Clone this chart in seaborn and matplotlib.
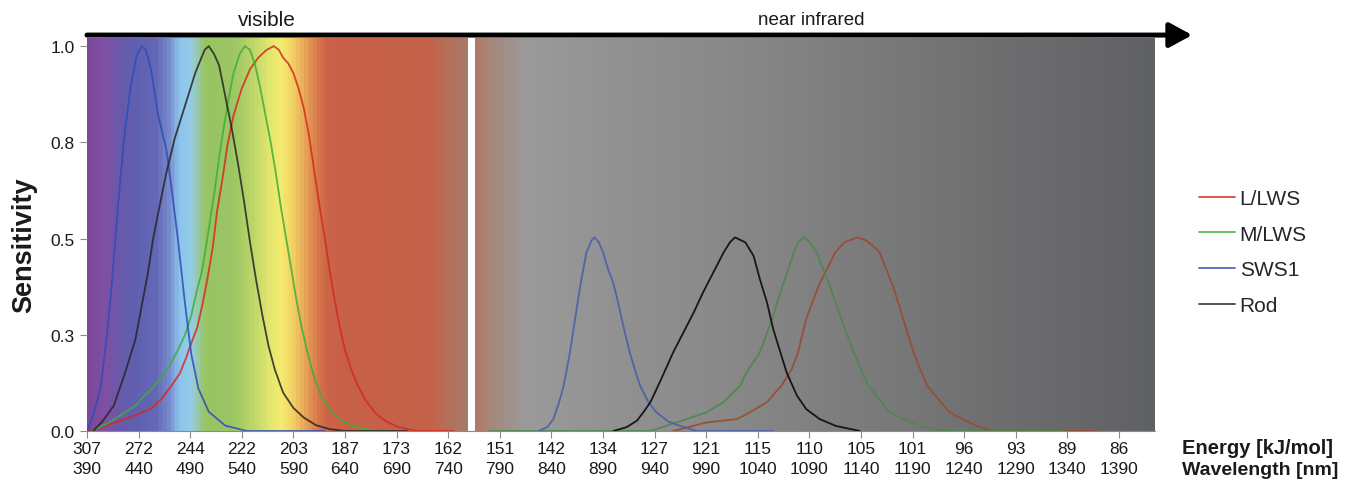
import numpy as np
import pandas as pd
import matplotlib
matplotlib.use('Agg')
import matplotlib.pyplot as plt
from matplotlib.colors import LinearSegmentedColormap
import seaborn as sns

# receptor order as in the legend
receptors = ['L/LWS', 'M/LWS', 'SWS1', 'Rod']

# visible range, one-photon sensitivity
llws_vis_nm = [392, 405, 415, 427, 440, 452, 462, 472, 480, 486, 492, 497, 502, 507, 512, 516, 521, 526, 532, 540,
               548, 556, 564, 571, 576, 580, 585, 590, 595, 600, 605, 610, 615, 620, 625, 630, 635, 640, 646, 652,
               660, 670, 680, 692, 710, 745]
llws_vis = [0.0, 0.01, 0.02, 0.031, 0.044, 0.058, 0.083, 0.118, 0.15, 0.19, 0.235, 0.27, 0.33, 0.40, 0.48, 0.57,
            0.65, 0.74, 0.82, 0.89, 0.94, 0.97, 0.99, 1.0, 0.99, 0.97, 0.955, 0.93, 0.89, 0.84, 0.77, 0.68, 0.59,
            0.51, 0.42, 0.34, 0.27, 0.21, 0.16, 0.12, 0.08, 0.045, 0.025, 0.01, 0.0, 0.0]

mlws_vis_nm = [395, 410, 425, 437, 445, 453, 462, 470, 478, 485, 491, 496, 501, 506, 510, 514, 518, 522, 527, 532,
               538, 543, 548, 553, 558, 563, 568, 573, 578, 583, 588, 593, 598, 604, 610, 617, 625, 635, 648, 665, 685]
mlws_vis = [0.0, 0.02, 0.045, 0.066, 0.09, 0.11, 0.14, 0.17, 0.21, 0.25, 0.30, 0.36, 0.41, 0.49, 0.56, 0.63, 0.71,
            0.78, 0.86, 0.93, 0.98, 1.0, 0.99, 0.95, 0.89, 0.82, 0.75, 0.67, 0.58, 0.50, 0.42, 0.34, 0.27, 0.20,
            0.14, 0.09, 0.055, 0.03, 0.012, 0.003, 0.0]

sws1_vis_nm = [390, 396, 403, 409, 415, 420, 426, 432, 438, 443, 447, 452, 459, 467, 472, 478, 485, 491, 498, 508,
               524, 545, 620]
sws1_vis = [0.0, 0.04, 0.11, 0.24, 0.41, 0.585, 0.76, 0.89, 0.975, 1.0, 0.99, 0.94, 0.82, 0.73, 0.63, 0.50, 0.33,
            0.20, 0.11, 0.05, 0.014, 0.0, 0.0]

rod_vis_nm = [396, 405, 416, 427, 437, 443, 449, 454, 460, 467, 475, 485, 495, 504, 508, 513, 518, 524, 530, 536,
              542, 548, 554, 560, 566, 572, 580, 590, 600, 612, 625, 640, 700]
rod_vis = [0.0, 0.025, 0.066, 0.152, 0.239, 0.325, 0.41, 0.498, 0.58, 0.672, 0.76, 0.845, 0.931, 0.99, 1.0, 0.98,
           0.95, 0.87, 0.79, 0.70, 0.60, 0.49, 0.39, 0.30, 0.22, 0.16, 0.10, 0.06, 0.035, 0.015, 0.005, 0.0, 0.0]

# near infrared range, two-photon sensitivity
llws_nir_nm = [958, 990, 1020, 1032, 1049, 1063, 1073, 1079, 1087, 1099, 1107, 1115, 1125, 1137, 1145, 1152, 1158,
               1171, 1181, 1191, 1204, 1226, 1252, 1268, 1371]
llws_nir = [0.0, 0.022, 0.031, 0.048, 0.075, 0.118, 0.161, 0.204, 0.291, 0.377, 0.42, 0.464, 0.492, 0.503, 0.495,
            0.48, 0.464, 0.377, 0.291, 0.204, 0.118, 0.048, 0.013, 0.0, 0.0]

mlws_nir_nm = [780, 936, 971, 990, 1007, 1023, 1029, 1042, 1054, 1064, 1075, 1079, 1084, 1089, 1097, 1110, 1121,
               1133, 1147, 1168, 1197, 1223, 1337]
mlws_nir = [0.0, 0.0, 0.031, 0.048, 0.075, 0.118, 0.152, 0.204, 0.291, 0.377, 0.464, 0.49, 0.503, 0.495, 0.464,
            0.377, 0.291, 0.204, 0.118, 0.048, 0.013, 0.0, 0.0]

sws1_nir_nm = [828, 836, 842, 847, 852, 858, 863, 868, 874, 879, 882, 886, 890, 895, 900, 905, 910, 916, 922, 926,
               934, 942, 953, 965, 981, 1055]
sws1_nir = [0.0, 0.01, 0.031, 0.07, 0.118, 0.204, 0.291, 0.377, 0.464, 0.495, 0.503, 0.49, 0.465, 0.42, 0.385,
            0.33, 0.27, 0.204, 0.15, 0.118, 0.075, 0.048, 0.025, 0.013, 0.0, 0.0]

rod_nir_nm = [900, 913, 923, 929, 936, 942, 948, 958, 968, 978, 987, 997, 1007, 1013, 1018, 1028, 1036, 1042, 1049,
              1055, 1062, 1068, 1078, 1087, 1100, 1116, 1139]
rod_nir = [0.0, 0.01, 0.027, 0.048, 0.075, 0.109, 0.144, 0.204, 0.256, 0.308, 0.36, 0.412, 0.464, 0.49, 0.503,
           0.49, 0.455, 0.395, 0.334, 0.265, 0.204, 0.152, 0.092, 0.057, 0.031, 0.013, 0.0]

# axis ticks: wavelength and matching photon energy
wl_ticks = [390, 440, 490, 540, 590, 640, 690, 740, 790, 840, 890, 940, 990, 1040, 1090, 1140, 1190, 1240, 1290,
            1340, 1390]
energy_ticks = [307, 272, 244, 222, 203, 187, 173, 162, 151, 142, 134, 127, 121, 115, 110, 105, 101, 96, 93, 89, 86]
sens_ticks = [0.0, 0.25, 0.5, 0.75, 1.0]
sens_labels = ['0.0', '0.3', '0.5', '0.8', '1.0']

# background spectrum colour stops
bg_nm = [390, 405, 420, 435, 455, 468, 478, 490, 497, 503, 530, 550, 565, 576, 588, 600, 612, 622, 640, 720, 740,
         759, 766, 785, 815, 900, 1000, 1100, 1200, 1300, 1425]
bg_colors = ['#7a489b', '#8050a5', '#695aaa', '#6060b0', '#6468b6', '#788ccd', '#8cc4ec', '#96cde6', '#96c896',
             '#98c464', '#9cc664', '#bed769', '#e1e66e', '#f5ec70', '#f2d264', '#e8a558', '#d7784b', '#cc6448',
             '#c86048', '#c6624a', '#b4705a', '#a57d6c', '#b27a66', '#a48a80', '#9c9a9a', '#929292', '#8a8a8a',
             '#808080', '#767677', '#6c6c6e', '#606165']

vis_palette = {'L/LWS': '#d42a1e', 'M/LWS': '#3fae3a', 'SWS1': '#2f4cb8', 'Rod': '#262626'}
nir_palette = {'L/LWS': '#9a4a32', 'M/LWS': '#4d874d', 'SWS1': '#4a5faa', 'Rod': '#0a0a0a'}


def long_df(parts):
    frames = [pd.DataFrame({'nm': nm, 'sens': s, 'receptor': name}) for name, nm, s in parts]
    return pd.concat(frames, ignore_index=True)


vis = long_df([('L/LWS', llws_vis_nm, llws_vis), ('M/LWS', mlws_vis_nm, mlws_vis),
               ('SWS1', sws1_vis_nm, sws1_vis), ('Rod', rod_vis_nm, rod_vis)])
nir = long_df([('L/LWS', llws_nir_nm, llws_nir), ('M/LWS', mlws_nir_nm, mlws_nir),
               ('SWS1', sws1_nir_nm, sws1_nir), ('Rod', rod_nir_nm, rod_nir)])

sns.set_theme(style='white')
plt.rcParams['font.family'] = ['Liberation Sans', 'DejaVu Sans']

W, H = 1369, 489
fig = plt.figure(figsize=(W / 100, H / 100), dpi=100)
ax = fig.add_axes([87 / W, 1 - 432 / H, (1155 - 87) / W, (432 - 39) / H])

x_lo, x_hi, y_top = 390, 1425, 1.021

# spectrum background
pos = [(n - x_lo) / (x_hi - x_lo) for n in bg_nm]
cmap = LinearSegmentedColormap.from_list('spectrum', list(zip(pos, bg_colors)))
ax.imshow(np.linspace(0, 1, 1500).reshape(1, -1), cmap=cmap, aspect='auto',
          extent=(x_lo, x_hi, 0, y_top), zorder=0, interpolation='bilinear')
ax.axvspan(759, 766, color='white', lw=0, zorder=1)

sns.lineplot(data=vis, x='nm', y='sens', hue='receptor', hue_order=receptors, palette=vis_palette,
             estimator=None, lw=1.3, alpha=0.85, ax=ax, zorder=3)
sns.lineplot(data=nir, x='nm', y='sens', hue='receptor', hue_order=receptors, palette=nir_palette,
             estimator=None, lw=1.3, alpha=0.9, ax=ax, zorder=3, legend=False)

ax.set_xlim(x_lo, x_hi)
ax.set_ylim(0, y_top)
ax.set_xlabel('')
ax.set_ylabel('')

ax.set_xticks(wl_ticks)
ax.set_xticklabels([f'{e}\n{w}' for e, w in zip(energy_ticks, wl_ticks)], linespacing=1.4)
ax.set_yticks(sens_ticks)
ax.set_yticklabels(sens_labels)
ax.tick_params(axis='x', bottom=True, length=5, width=0.8, color='#8a8a8a', labelsize=12.5, pad=2.5,
               labelcolor='#1a1a1a')
ax.tick_params(axis='y', left=True, length=5, width=0.8, color='#8a8a8a', labelsize=12.5, pad=4,
               labelcolor='#1a1a1a')
for side in ['top', 'right', 'left']:
    ax.spines[side].set_visible(False)
ax.spines['bottom'].set_color('#8a8a8a')
ax.spines['bottom'].set_linewidth(0.8)

# direction arrow along the top
ax.annotate('', xy=(1461, 1.0286), xytext=(390, 1.0286), annotation_clip=False,
            arrowprops=dict(arrowstyle='-|>,head_length=0.55,head_width=0.3', lw=3.6, color='black',
                            shrinkA=0, shrinkB=0, mutation_scale=25))
fig.text(267 / W, 1 - 20.5 / H, 'visible', ha='center', va='center', fontsize=15, color='#1a1a1a')
fig.text(811 / W, 1 - 20.5 / H, 'near infrared', ha='center', va='center', fontsize=13.5, color='#1a1a1a')

fig.text(24 / W, 1 - 245 / H, 'Sensitivity', rotation=90, ha='center', va='center', fontsize=19.5,
         fontweight='bold', color='#1a1a1a')
fig.text(1182 / W, 1 - 449 / H, 'Energy [kJ/mol]', ha='left', va='center', fontsize=14.5,
         fontweight='bold', color='#1a1a1a')
fig.text(1182 / W, 1 - 471 / H, 'Wavelength [nm]', ha='left', va='center', fontsize=14,
         fontweight='bold', color='#1a1a1a')

handles, labels = ax.get_legend_handles_labels()
ax.legend(handles, labels, loc='upper left', bbox_to_anchor=((1199 - 87) / 1068, (432 - 190) / 393),
          frameon=False, fontsize=15, handlelength=1.75, handletextpad=0.2, labelspacing=0.8,
          borderaxespad=0, borderpad=0)

fig.savefig('out.png', dpi=100)
